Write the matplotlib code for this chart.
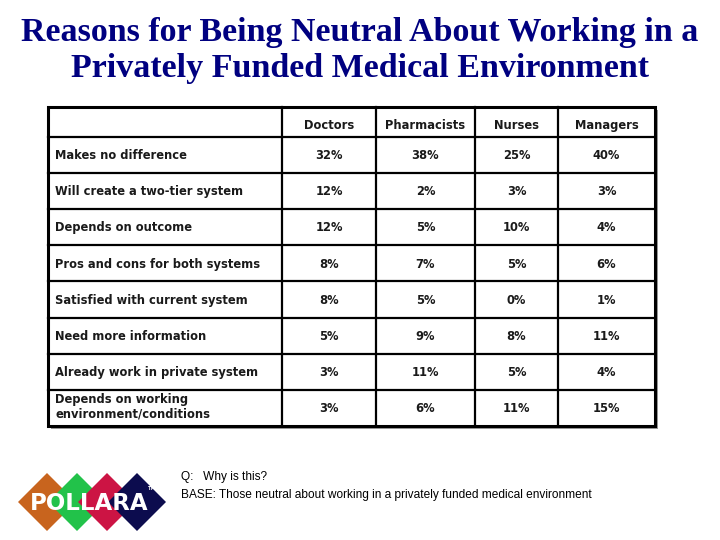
import matplotlib
matplotlib.use("Agg")
import matplotlib.pyplot as plt
from matplotlib.patches import Rectangle, Polygon

title_lines = ["Reasons for Being Neutral About Working in a",
               "Privately Funded Medical Environment"]
groups = ["Doctors", "Pharmacists", "Nurses", "Managers"]
reasons = [
    "Makes no difference",
    "Will create a two-tier system",
    "Depends on outcome",
    "Pros and cons for both systems",
    "Satisfied with current system",
    "Need more information",
    "Already work in private system",
    "Depends on working\nenvironment/conditions",
]
doctors = [32, 12, 12, 8, 8, 5, 3, 3]
pharmacists = [38, 2, 5, 7, 5, 9, 11, 6]
nurses = [25, 3, 10, 5, 0, 8, 5, 11]
managers = [40, 3, 4, 6, 1, 11, 4, 15]
question = "Q:   Why is this?"
base = "BASE: Those neutral about working in a privately funded medical environment"
logo_colors = ["#c8641e", "#22c24a", "#cc1444", "#0c0c4e"]

# layout (pixel coordinates, origin top-left)
col_edges = [48, 282, 376, 475, 558, 655]
top, head_h, row_h = 107, 30, 36.1
cap_half = 4.2

fig = plt.figure(figsize=(7.2, 5.4), dpi=100)
ax = fig.add_axes([0, 0, 1, 1])
ax.set_xlim(0, 720)
ax.set_ylim(540, 0)
ax.axis("off")

for i, line in enumerate(title_lines):
    ax.text(360, 33 + i * 35, line, ha="center", va="center",
            family="Liberation Serif", fontweight="bold", fontsize=24.5, color="#000080")

values = [doctors, pharmacists, nurses, managers]
n = len(reasons)
bottom = top + head_h + n * row_h
left, right = col_edges[0], col_edges[-1]

# shadow + box
ax.add_patch(Rectangle((left + 3, top + 3), right - left, bottom - top,
                       facecolor="#9a9a9a", edgecolor="none", zorder=1))
ax.add_patch(Rectangle((left, top), right - left, bottom - top,
                       facecolor="white", edgecolor="black", lw=2.2, zorder=2))
for x in col_edges[1:-1]:
    ax.plot([x, x], [top, bottom], color="black", lw=1.6, zorder=3)
row_lines = [top + head_h + k * row_h for k in range(n)]
for y in row_lines:
    ax.plot([left, right], [y, y], color="black", lw=1.6, zorder=3)

tkw = dict(family="DejaVu Sans", fontweight="bold", fontsize=8.3,
           color="#1a1a1a", zorder=4)
for j, g in enumerate(groups):
    xc = (col_edges[j + 1] + col_edges[j + 2]) / 2
    ax.text(xc, top + head_h / 2 + 3 + cap_half, g, ha="center", va="baseline", **tkw)
for i, r in enumerate(reasons):
    yc = top + head_h + (i + 0.5) * row_h
    if "\n" in r:
        ax.text(left + 7, yc - 1, r, ha="left", va="center", linespacing=1.2, **tkw)
    else:
        ax.text(left + 7, yc + cap_half, r, ha="left", va="baseline", **tkw)
    for j, vals in enumerate(values):
        xc = (col_edges[j + 1] + col_edges[j + 2]) / 2
        ax.text(xc, yc + cap_half, f"{vals[i]}%", ha="center", va="baseline", **tkw)

ax.text(181, 477, question, ha="left", va="center",
        family="Liberation Sans", fontsize=8.6)
ax.text(181, 495, base, ha="left", va="center",
        family="Liberation Sans", fontsize=8.6)

# logo
for k, c in enumerate(logo_colors):
    cx, cy, h = 47 + 30 * k, 502, 29
    ax.add_patch(Polygon([(cx - h, cy), (cx, cy - h), (cx + h, cy), (cx, cy + h)],
                         closed=True, facecolor=c, edgecolor="none", zorder=2))
ax.text(89, 503, "POLLARA", ha="center", va="center", color="white",
        family=["Liberation Sans Narrow", "DejaVu Sans"], fontweight="bold",
        fontsize=16.5, zorder=3)
ax.text(152, 488, "TM", ha="center", va="center", color="white",
        family="DejaVu Sans", fontweight="bold", fontsize=3.5, zorder=3)

fig.savefig("out.png", dpi=100)
